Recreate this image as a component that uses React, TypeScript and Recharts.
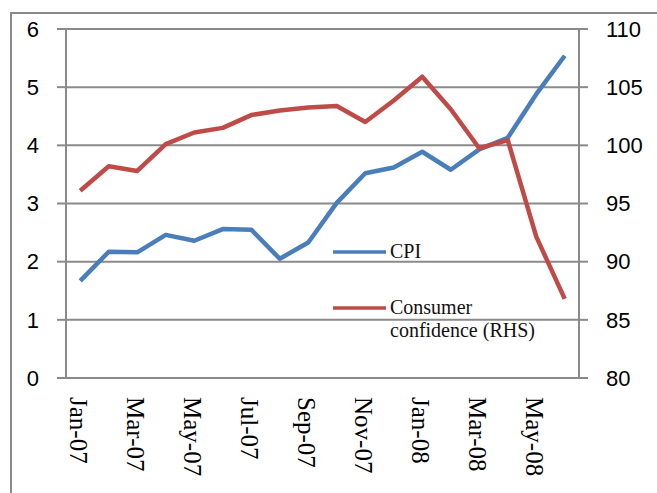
import React from "react";
import { LineChart, Line, XAxis, YAxis, CartesianGrid, Legend } from "recharts";

const months = [
  "Jan-07", "Feb-07", "Mar-07", "Apr-07", "May-07", "Jun-07", "Jul-07", "Aug-07", "Sep-07",
  "Oct-07", "Nov-07", "Dec-07", "Jan-08", "Feb-08", "Mar-08", "Apr-08", "May-08", "Jun-08",
];
const cpi = [1.67, 2.17, 2.16, 2.46, 2.36, 2.56, 2.55, 2.05, 2.33, 3.01, 3.52, 3.62, 3.89, 3.58, 3.93, 4.13, 4.88, 5.54];
const confidence = [96.1, 98.2, 97.8, 100.1, 101.1, 101.5, 102.6, 103.0, 103.25, 103.38, 102.0, 103.85, 105.9, 103.1, 99.75, 100.45, 92.15, 86.8];
const leftTicks = [0, 1, 2, 3, 4, 5, 6];
const rightTicks = [80, 85, 90, 95, 100, 105, 110];
const boundaryTicks = [-0.5, 1.5, 3.5, 5.5, 7.5, 9.5, 11.5, 13.5, 15.5, 17.5];
const labelTicks = [0, 2, 4, 6, 8, 10, 12, 14, 16];

const data = months.map((m, i) => ({ i, month: m, cpi: cpi[i], confidence: confidence[i] }));

const GRAY = "#8a8a8a";
const BLUE = "#4a7ebb";
const RED = "#be4b48";

const MonthTick = (props: any) => {
  const { x, y, payload } = props;
  return (
    <text
      x={x - 2}
      y={y}
      transform={`rotate(90, ${x - 2}, ${y})`}
      textAnchor="start"
      dy="0.33em"
      fontFamily="'Liberation Serif', serif"
      fontSize={25}
      fill="#000"
    >
      {months[payload.value]}
    </text>
  );
};

const LegendBox = () => (
  <div style={{ fontFamily: "'Liberation Serif', serif", fontSize: 20, color: "#111", lineHeight: "23px" }}>
    <div style={{ display: "flex", alignItems: "center", height: 23 }}>
      <svg width={57} height={8}>
        <line x1={0} y1={4} x2={53} y2={4} stroke={BLUE} strokeWidth={3.5} />
      </svg>
      <span>CPI</span>
    </div>
    <div style={{ height: 33 }} />
    <div style={{ display: "flex", alignItems: "center", height: 23 }}>
      <svg width={57} height={8}>
        <line x1={0} y1={4} x2={53} y2={4} stroke={RED} strokeWidth={3.5} />
      </svg>
      <span>Consumer</span>
    </div>
    <div style={{ paddingLeft: 57 }}>confidence (RHS)</div>
  </div>
);

export default function App() {
  return (
    <div style={{ position: "fixed", left: 0, top: 0, width: 657, height: 493, overflow: "hidden", background: "#fff" }}>
      <div
        style={{
          position: "absolute",
          left: 10,
          top: 12,
          width: 700,
          height: 600,
          border: `2px solid ${GRAY}`,
        }}
      />
      <div style={{ position: "absolute", left: 0, top: 0 }}>
        <LineChart width={657} height={493} data={data} margin={{ top: 29, right: 20, bottom: 5, left: 0 }}>
          <CartesianGrid vertical={false} stroke={GRAY} strokeWidth={2} yAxisId="left" xAxisId="a-main" />
          <XAxis
            xAxisId="a-main"
            dataKey="i"
            type="number"
            domain={[-0.5, 17.5]}
            ticks={boundaryTicks}
            tick={false}
            tickSize={8}
            height={8}
            stroke={GRAY}
            axisLine={{ stroke: GRAY, strokeWidth: 2 }}
            tickLine={{ stroke: GRAY, strokeWidth: 2 }}
          />
          <XAxis
            xAxisId="b-labels"
            dataKey="i"
            type="number"
            domain={[-0.5, 17.5]}
            ticks={labelTicks}
            axisLine={false}
            tickLine={false}
            tickSize={0}
            tickMargin={11}
            height={102}
            interval={0}
            tick={<MonthTick />}
          />
          <YAxis
            yAxisId="left"
            domain={[0, 6]}
            ticks={leftTicks}
            width={66}
            tickSize={9}
            tickMargin={18}
            axisLine={{ stroke: GRAY, strokeWidth: 2 }}
            tickLine={{ stroke: GRAY, strokeWidth: 2 }}
            tick={{ fill: "#000", fontSize: 22, fontFamily: "'Liberation Sans', sans-serif" }}
          />
          <YAxis
            yAxisId="right"
            orientation="right"
            domain={[80, 110]}
            ticks={rightTicks}
            width={58}
            tickSize={9}
            tickMargin={18}
            axisLine={{ stroke: GRAY, strokeWidth: 2 }}
            tickLine={{ stroke: GRAY, strokeWidth: 2 }}
            tick={{ fill: "#000", fontSize: 22, fontFamily: "'Liberation Sans', sans-serif", textAnchor: "start" }}
          />
          <Legend
            layout="vertical"
            align="center"
            verticalAlign="middle"
            content={<LegendBox />}
            wrapperStyle={{ position: "absolute", left: 333, top: 240, width: 220 }}
          />
          <Line
            xAxisId="a-main"
            yAxisId="left"
            dataKey="cpi"
            name="CPI"
            stroke={BLUE}
            strokeWidth={4.5}
            dot={false}
            strokeLinejoin="round"
            isAnimationActive={false}
          />
          <Line
            xAxisId="a-main"
            yAxisId="right"
            dataKey="confidence"
            name="Consumer confidence (RHS)"
            stroke={RED}
            strokeWidth={4.5}
            dot={false}
            strokeLinejoin="round"
            isAnimationActive={false}
          />
        </LineChart>
      </div>
    </div>
  );
}
